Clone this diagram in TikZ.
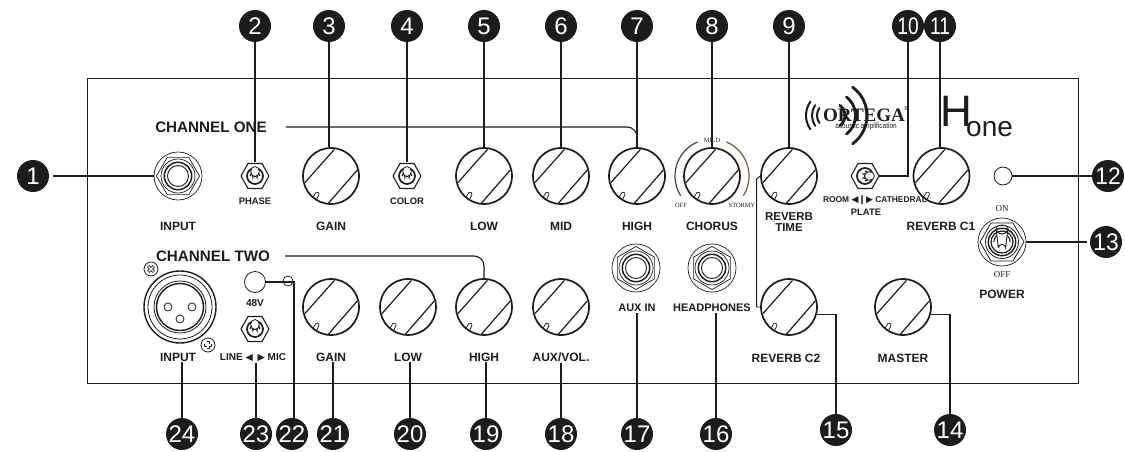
\documentclass[tikz,border=0pt]{standalone}
\usepackage{fontspec}
\setmainfont{Liberation Sans}
\newfontfamily\serifnum{Liberation Serif}
\newfontfamily\symfont{DejaVu Sans}
\usetikzlibrary{shapes.geometric,calc}
\definecolor{ink}{HTML}{1C1C1C}
\definecolor{chbrownA}{HTML}{4E4132}
\definecolor{chbrownB}{HTML}{7A5C3A}
\tikzset{
  badge/.style={circle,fill=ink,draw=none,minimum size=32pt,inner sep=0pt,text=white,font=\fontsize{24}{24}\selectfont},
  leader/.style={draw=ink,line width=1.6pt},
  thinlead/.style={draw=ink,line width=0.9pt},
  knobc/.style={circle,draw=ink,line width=1.7pt,minimum size=56pt,inner sep=0pt},
  lab/.style={font=\bfseries\fontsize{12}{12}\selectfont,text=ink,inner sep=1pt},
  smalllab/.style={font=\bfseries\fontsize{9.4}{10}\selectfont,text=ink,inner sep=1pt},
  chlab/.style={font=\bfseries\fontsize{15.2}{15}\selectfont,text=ink,inner sep=1pt},
  serlab/.style={font=\serifnum\fontsize{9}{9}\selectfont,text=ink,inner sep=1pt},
  sertiny/.style={font=\serifnum\fontsize{6.4}{7}\selectfont,text=ink,inner sep=1pt},
  hollow/.style={circle,draw=ink,line width=0.8pt,inner sep=0pt},
  panel/.style={draw=ink,line width=0.9pt},
  wave/.style={draw=ink,line width=2.8pt,line cap=round},
}
\newcommand{\knobat}[3]{%
  \node[knobc] (#1) at (#2,#3) {};
  \begin{scope}[shift={(#2,#3)},draw=ink]
    \draw[line width=1.2pt] (3.5,-26.7) -- (-26,6.5);
    \draw[line width=1.2pt] (26.3,-6) -- (-2.7,27.3);
    \draw[line width=0.7pt,rounded corners=1.2pt] (-18.5,22) -- (-14.5,15.5) -- (-11.5,17.5) -- (-14.5,23.5);
  \end{scope}}
\newcommand{\jackat}[4]{%
  \node[circle,draw=ink,line width=0.7pt,minimum size=48pt,inner sep=0pt] (#1) at (#2,#3) {};
  \node[regular polygon,regular polygon sides=6,draw=ink,line width=0.7pt,minimum size=43pt,inner sep=0pt,shape border rotate=#4] at (#2,#3) {};
  \begin{scope}[shift={(#2,#3)},draw=ink]
    \draw[line width=0.7pt] (0,0) circle (17);
    \draw[line width=1.5pt] (0,0) circle (13.7);
    \draw[line width=0.9pt] (0,0) circle (10.5);
  \end{scope}}
\newcommand{\toggleat}[4]{%
  \node[circle,draw=none,minimum size=28pt,inner sep=0pt] (#1) at (#2,#3) {};
  \begin{scope}[shift={(#2,#3)},draw=ink]
    \draw[line width=1.1pt] (-14,0) -- (-7,-12.5) -- (7,-12.5) -- (14,0) -- (7,12.5) -- (-7,12.5) -- cycle;
    \begin{scope}[rotate=#4]
      \draw[line width=1.7pt] (0,0) circle (8);
      \draw[line width=1.3pt] (-4.8,0) arc[start angle=180,end angle=360,radius=4.8];
      \draw[line width=0.8pt,fill=white] (0,-4.5) ellipse (4.3 and 5);
      \draw[line width=0.7pt] (-2.6,-1) -- (-2.2,2.4) arc[start angle=180,end angle=360,radius=2.2] -- (2.6,-1);
    \end{scope}
  \end{scope}}
\newcommand{\screwat}[4]{%
  \node[hollow,minimum size=14pt] (#1) at (#2,#3) {};
  \begin{scope}[shift={(#2,#3)},rotate=#4]
    \draw[draw=ink,line width=3pt] (-4,0) -- (4,0) (0,-4) -- (0,4);
    \draw[draw=white,line width=1.4pt] (-3.4,0) -- (3.4,0) (0,-3.4) -- (0,3.4);
  \end{scope}}
\begin{document}
\begin{tikzpicture}[x=1pt,y=-1pt]
\useasboundingbox (0,0) rectangle (1125,452);
\draw[panel] (87,78) rectangle (1078,383);

% knobs row one
\knobat{k3}{331}{176}
\knobat{k5}{484}{176}
\knobat{k6}{561}{176}
\knobat{k7}{637}{176}
\knobat{k8}{712}{176}
\knobat{k9}{789}{176}
\knobat{k11}{941.5}{176}
% knobs row two
\knobat{k21}{331}{307}
\knobat{k20}{408}{307}
\knobat{k19}{484}{307}
\knobat{k18}{561}{307}
\knobat{k15}{789}{307}
\knobat{k14}{903}{307}

% jacks
\jackat{j1}{178}{176}{0}
\jackat{j17}{636}{268}{90}
\jackat{j16}{712}{268}{90}

% toggles
\toggleat{t2}{255}{176}{0}
\toggleat{t4}{407}{176}{0}
\toggleat{t10}{865}{176}{-90}
\toggleat{t23}{255}{329}{0}
\node[circle,draw=ink,line width=0.7pt,minimum size=48pt,inner sep=0pt] (t13) at (1002,242) {};
\node[regular polygon,regular polygon sides=6,draw=ink,line width=0.8pt,minimum size=44pt,inner sep=0pt] at (1002,242) {};
\begin{scope}[shift={(1002,242)},draw=ink]
  \draw[line width=0.8pt] (0,0) circle (16.5);
  \draw[line width=1.4pt] (0,0) circle (13.7);
  \draw[line width=1.2pt] (0,0) circle (11);
  \draw[line width=1pt] (-8.2,0) arc[start angle=180,end angle=360,radius=8.2];
  \draw[line width=0.9pt,fill=white] (-3.6,6) -- (-6,-14) arc[start angle=180,end angle=0,radius=6] -- (3.6,6) arc[start angle=0,end angle=-180,radius=3.6];
  \draw[line width=0.7pt] (-6,-14) arc[start angle=180,end angle=360,x radius=6,y radius=3];
\end{scope}

% LEDs
\node[hollow,minimum size=18pt] (l12) at (1003,176) {};
\node[hollow,minimum size=21pt] (l22) at (255,282) {};
\node[hollow,minimum size=10pt] (l22b) at (288,281) {};

% XLR
\node[circle,draw=ink,line width=1.4pt,minimum size=72pt,inner sep=0pt] (x24) at (180,307) {};
\node[circle,draw=ink,line width=0.8pt,minimum size=64pt,inner sep=0pt] at (180,307) {};
\node[circle,draw=ink,line width=0.8pt,minimum size=52pt,inner sep=0pt] at (180,307) {};
\node[circle,draw=ink,line width=1.4pt,minimum size=47pt,inner sep=0pt] at (180,307) {};
\node[hollow,minimum size=8pt] at (168,307) {};
\node[hollow,minimum size=8pt] at (192,307) {};
\node[hollow,minimum size=8pt] at (180,319) {};
\screwat{s1}{151}{269}{45}
\screwat{s2}{208}{345}{0}

% chorus scale
\draw[chbrownA,line width=1.2pt] ([shift={(212:37pt)}]k8.center) arc[start angle=212,end angle=113,radius=37pt];
\draw[chbrownB,line width=1.2pt] ([shift={(67:37pt)}]k8.center) arc[start angle=67,end angle=-32,radius=37pt];

% labels
\node[chlab] (ch1) at (211,127) {CHANNEL ONE};
\node[chlab] (ch2) at (213,256) {CHANNEL TWO};
\node[lab] (tInput) at (178,226) {INPUT};
\node[smalllab] at (255,201) {PHASE};
\node[lab] at (331,226) {GAIN};
\node[smalllab] at (407,201) {COLOR};
\node[lab] at (484,226) {LOW};
\node[lab] at (561,226) {MID};
\node[lab] at (637,226) {HIGH};
\node[lab] at (712,226) {CHORUS};
\node[lab,align=center,font=\bfseries\fontsize{11.5}{11.5}\selectfont] at (789,222) {REVERB\\TIME};
\node[lab] at (941,226) {REVERB C1};
\node[smalllab,font=\bfseries\fontsize{8.4}{9}\selectfont] at (875,200) {ROOM {\symfont\fontsize{9}{9}\selectfont ◀❙▶} CATHEDRAL};
\node[smalllab] at (866,212) {PLATE};
\node[sertiny] at (712,140) {MILD};
\node[sertiny] at (681,205) {OFF};
\node[sertiny] at (742,205) {STORMY};
\node[serlab] at (1002,209) {ON};
\node[serlab] at (1002,275) {OFF};
\node[lab] at (1002,294) {POWER};
\node[smalllab,font=\bfseries\fontsize{10}{10}\selectfont] at (255,303) {48V};
\node[smalllab,font=\bfseries\fontsize{10}{10}\selectfont] (t23l) at (253,358) {LINE {\symfont\fontsize{9.5}{9}\selectfont ◀\,\,\,▶} MIC};
\node[lab] (t24l) at (178,357) {INPUT};
\node[lab] (t21l) at (331,357) {GAIN};
\node[lab] (t20l) at (408,357) {LOW};
\node[lab] (t19l) at (484,357) {HIGH};
\node[lab] (t18l) at (561,357) {AUX/VOL.};
\node[smalllab,font=\bfseries\fontsize{11}{11}\selectfont] (t17l) at (637,308) {AUX IN};
\node[smalllab,font=\bfseries\fontsize{11}{11}\selectfont] (t16l) at (712,308) {HEADPHONES};
\node[lab] at (786,358) {REVERB C2};
\node[lab] at (903,358) {MASTER};

% logo
\begin{scope}[shift={(830,115.5)}]
  \draw[wave,line width=2pt] ([shift={(145:24pt)}]0,0) arc[start angle=145,end angle=215,radius=24pt];
  \draw[wave,line width=2pt] ([shift={(145:18pt)}]0,0) arc[start angle=145,end angle=215,radius=18pt];
  \draw[wave,line width=2pt] ([shift={(145:13pt)}]0,0) arc[start angle=145,end angle=215,radius=13pt];
\end{scope}
\begin{scope}[shift={(832,115.5)}]
  \draw[wave] ([shift={(-54:35pt)}]0,0) arc[start angle=-54,end angle=54,radius=35pt];
  \draw[wave] ([shift={(-52:23.5pt)}]0,0) arc[start angle=-52,end angle=52,radius=23.5pt];
  \draw[wave] ([shift={(-52:13pt)}]0,0) arc[start angle=-52,end angle=52,radius=13pt];
\end{scope}
\node[inner sep=0pt,text=ink,font=\serifnum\bfseries\fontsize{19}{19}\selectfont] (logo) at (864,115) {ORTEGA};
\node[inner sep=0pt,text=ink,font=\serifnum\fontsize{6}{6}\selectfont] at (906,109) {®};
\node[inner sep=0pt,text=ink,font=\fontsize{7.6}{8}\selectfont] at (866,127) {\scalebox{0.85}[1]{acoustic amplification}};
\node[inner sep=0pt,anchor=base west,text=ink,font=\fontsize{44}{44}\selectfont] at (940,126) {H};
\node[inner sep=0pt,anchor=base west,text=ink,font=\fontsize{28}{28}\selectfont] at (966,136) {one};

% badges
\node[badge] (b1) at (33,176) {1};
\node[badge] (b2) at (255,26) {2};
\node[badge] (b3) at (329,26) {3};
\node[badge] (b4) at (407,26) {4};
\node[badge] (b5) at (484,26) {5};
\node[badge] (b6) at (561,26) {6};
\node[badge] (b7) at (637,26) {7};
\node[badge] (b8) at (712,26) {8};
\node[badge] (b9) at (789,26) {9};
\node[badge] (b10) at (908,26) {\scalebox{0.8}[1]{10}};
\node[badge] (b11) at (940,26) {\scalebox{0.8}[1]{11}};
\node[badge] (b12) at (1108,176) {\scalebox{0.95}[1]{12}};
\node[badge] (b13) at (1106,242) {\scalebox{0.95}[1]{13}};
\node[badge] (b14) at (950,430) {14};
\node[badge] (b15) at (836,430) {15};
\node[badge] (b16) at (716,434) {16};
\node[badge] (b17) at (637,434) {17};
\node[badge] (b18) at (561,434) {18};
\node[badge] (b19) at (486,434) {19};
\node[badge] (b20) at (410,434) {20};
\node[badge] (b21) at (333,434) {21};
\node[badge] (b22) at (292,434) {22};
\node[badge] (b23) at (256,434) {23};
\node[badge] (b24) at (182,434) {24};

% connectors
\draw[leader] ([xshift=4pt]b1.east) -- (j1.west);
\draw[leader] (b2.south) -- (t2.north);
\draw[leader] (b3.south) -- (b3.south |- k3.north);
\draw[leader] (b4.south) -- (t4.north);
\draw[leader] (b5.south) -- (k5.north);
\draw[leader] (b6.south) -- (k6.north);
\draw[leader] (b7.south) -- (k7.north);
\draw[leader] (b8.south) -- (k8.north);
\draw[leader] (b9.south) -- (k9.north);
\draw[leader] (b10.south) |- (t10.east);
\draw[leader] (b11.south) -- (b11.south |- k11.north);
\draw[leader] (l12.east) -- (b12.west);
\draw[leader] (t13.east) -- ([xshift=-3pt]b13.west);
\draw[leader] (k14.-15) -| (b14.north);
\draw[leader] (k15.-15) -| (b15.north);
\draw[leader] (t16l.south -| b16.north) -- (b16.north);
\draw[leader] (t17l.south -| b17.north) -- (b17.north);
\draw[leader] (t18l.south -| b18.north) -- (b18.north);
\draw[leader] (t19l.south -| b19.north) -- (b19.north);
\draw[leader] (t20l.south -| b20.north) -- (b20.north);
\draw[leader] (t21l.south -| b21.north) -- (b21.north);
\draw[leader] (l22.east) -| ([xshift=2pt]b22.north);
\draw[leader] (t23l.south -| b23.north) -- (b23.north);
\draw[leader] (t24l.south -| b24.north) -- (b24.north);
\draw[leader,line width=1.1pt,rounded corners=10pt] ([xshift=18pt]ch1.east) -| (k7.north);
\draw[leader,line width=1.1pt,rounded corners=10pt] ([xshift=14pt]ch2.east) -| (k19.north);
\draw[thinlead] (k9.west) -- ++(-3.5,3) |- (k15.west);
\end{tikzpicture}
\end{document}
